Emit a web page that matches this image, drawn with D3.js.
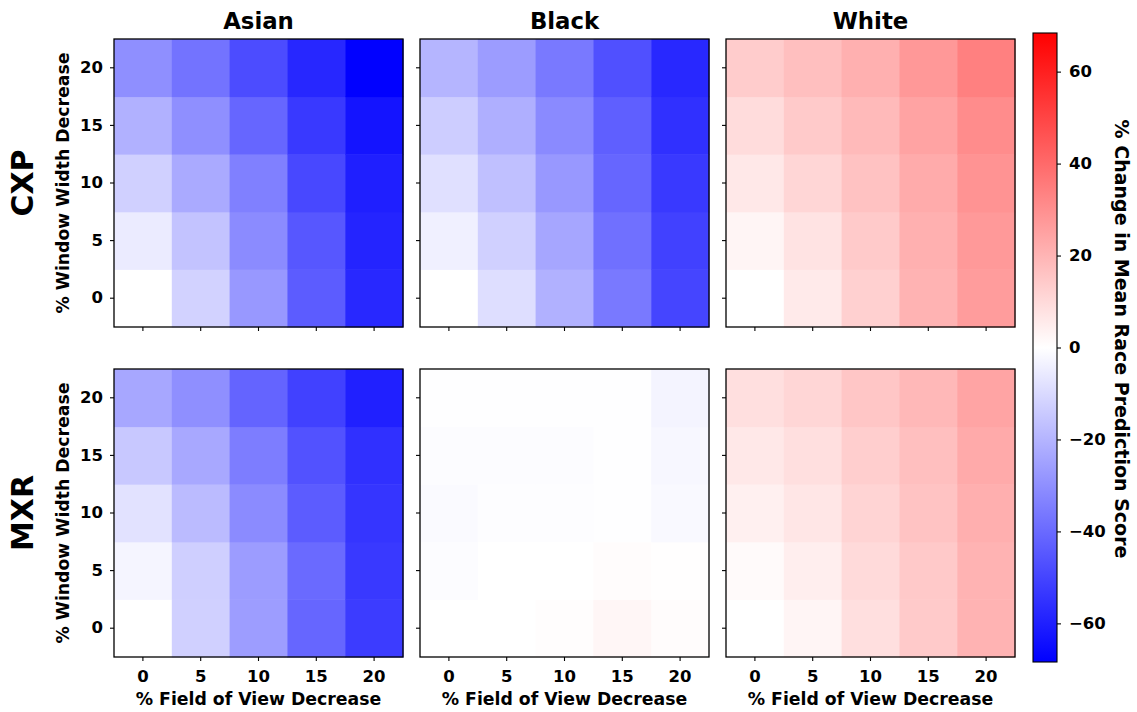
<!DOCTYPE html>
<html><head><meta charset="utf-8">
<script src="https://cdn.jsdelivr.net/npm/d3@7"></script>
<style>
body{margin:0;background:#fff;}
text{font-family:"DejaVu Sans",sans-serif;font-weight:bold;}
</style></head>
<body><svg id="c" width="1137" height="712"></svg>
<script>
// Data
const fovLevels = [0, 5, 10, 15, 20];     // x categories (% Field of View Decrease)
const wwLevels = [0, 5, 10, 15, 20];      // y categories (% Window Width Decrease)
const races = ["Asian", "Black", "White"];
const datasets = ["CXP", "MXR"];
const cbTicks = [-60, -40, -20, 0, 20, 40, 60];
const vLimit = 68.4;

// values[row by window width 0..20][col by fov 0..20]
const cxpAsian = [
  [0.0, -12.0, -27.6, -43.7, -57.7],
  [-5.4, -16.0, -31.0, -45.0, -58.7],
  [-12.6, -22.8, -34.0, -49.0, -60.0],
  [-21.0, -30.0, -41.0, -53.0, -63.0],
  [-30.0, -37.6, -48.0, -58.0, -68.0]
];
const cxpBlack = [
  [0.0, -8.9, -21.0, -36.0, -49.9],
  [-4.0, -12.6, -24.0, -38.4, -51.0],
  [-8.3, -16.9, -27.6, -41.0, -53.0],
  [-13.4, -21.5, -31.4, -43.0, -55.5],
  [-19.9, -26.6, -36.0, -46.9, -57.7]
];
const cxpWhite = [
  [0.0, 5.6, 12.6, 20.4, 26.6],
  [2.7, 7.5, 14.2, 21.2, 27.4],
  [6.2, 11.0, 16.4, 22.5, 29.0],
  [9.4, 14.2, 18.5, 24.7, 30.9],
  [13.7, 17.2, 21.2, 27.6, 34.0]
];
const mxrAsian = [
  [0.0, -12.6, -26.3, -41.0, -52.3],
  [-2.7, -12.9, -26.6, -39.9, -53.1],
  [-7.8, -18.2, -31.0, -43.7, -54.2],
  [-14.8, -23.3, -34.9, -46.4, -55.5],
  [-23.6, -30.0, -41.6, -51.0, -59.8]
];
const mxrBlack = [
  [0.0, 0.0, 0.5, 2.5, 0.8],
  [-0.8, 0.1, 0.1, 0.8, 0.2],
  [-1.3, -0.5, -0.5, -0.2, -1.6],
  [-0.8, -0.8, -0.8, -0.3, -2.1],
  [-0.3, -0.3, -0.3, -0.3, -3.0]
];
const mxrWhite = [
  [0.0, 2.7, 8.6, 14.2, 20.4],
  [1.3, 4.6, 9.9, 14.5, 20.4],
  [4.0, 6.7, 11.5, 16.1, 21.5],
  [6.2, 8.6, 13.1, 17.2, 22.8],
  [8.6, 11.0, 15.3, 19.0, 24.4]
];
const grid = [
  [cxpAsian, cxpBlack, cxpWhite],
  [mxrAsian, mxrBlack, mxrWhite]
];

// Layout
const svg = d3.select("#c");
const colX = [114, 420, 726];
const rowY = [39, 369];
const pw = 289, ph = 288;

const color = d3.scaleLinear().domain([-vLimit, 0, vLimit]).range(["#0000ff", "#ffffff", "#ff0000"]);

const xScale = d3.scaleBand().domain(fovLevels).range([0, pw]);
const yScale = d3.scaleBand().domain(wwLevels).range([ph, 0]);

grid.forEach((row, ri) => {
  row.forEach((mat, ci) => {
    const g = svg.append("g").attr("transform", `translate(${colX[ci]},${rowY[ri]})`);
    const cells = [];
    mat.forEach((r, yi) => r.forEach((v, xi) => cells.push({x: fovLevels[xi], y: wwLevels[yi], v})));
    g.selectAll("rect.cell").data(cells).join("rect")
      .attr("class", "cell")
      .attr("x", d => xScale(d.x)).attr("y", d => yScale(d.y))
      .attr("width", xScale.bandwidth() + 0.5).attr("height", yScale.bandwidth() + 0.5)
      .attr("fill", d => color(d.v));
    g.append("rect").attr("width", pw).attr("height", ph)
      .attr("fill", "none").attr("stroke", "#000").attr("stroke-width", 1.3);

    const yAx = g.append("g").call(d3.axisLeft(yScale).tickSize(4).tickPadding(7).tickFormat(ci === 0 ? d => d : ""));
    const xAx = g.append("g").attr("transform", `translate(0,${ph})`)
      .call(d3.axisBottom(xScale).tickSize(4).tickPadding(9).tickFormat(ri === 1 ? d => d : ""));
    [yAx, xAx].forEach(a => {
      a.select(".domain").remove();
      a.selectAll(".tick line").attr("stroke", "#000").attr("stroke-width", 1.1);
      a.selectAll(".tick text").attr("font-size", 16.5).attr("font-weight", "bold")
        .attr("font-family", "DejaVu Sans").attr("fill", "#000");
    });

    if (ri === 0) {
      g.append("text").attr("x", pw / 2).attr("y", -10).attr("text-anchor", "middle")
        .attr("font-size", 22.8).text(races[ci]);
    }
    if (ri === 1) {
      g.append("text").attr("x", pw / 2).attr("y", ph + 48).attr("text-anchor", "middle")
        .attr("font-size", 17.3).text("% Field of View Decrease");
    }
    if (ci === 0) {
      g.append("text").attr("transform", `translate(-45,${ph / 2}) rotate(-90)`)
        .attr("text-anchor", "middle").attr("font-size", 17.3).text("% Window Width Decrease");
      g.append("text").attr("transform", `translate(-81,${ph / 2}) rotate(-90)`)
        .attr("text-anchor", "middle").attr("font-size", 30).text(datasets[ri]);
    }
  });
});

// Colorbar
const cbX = 1033, cbY = 33, cbW = 24, cbH = 629;
const defs = svg.append("defs");
const grad = defs.append("linearGradient").attr("id", "cbgrad")
  .attr("x1", 0).attr("y1", 1).attr("x2", 0).attr("y2", 0);
[-vLimit, 0, vLimit].forEach(v => {
  grad.append("stop").attr("offset", (v + vLimit) / (2 * vLimit)).attr("stop-color", color(v));
});
svg.append("rect").attr("x", cbX).attr("y", cbY).attr("width", cbW).attr("height", cbH)
  .attr("fill", "url(#cbgrad)").attr("stroke", "#000").attr("stroke-width", 1.1);
const cbScale = d3.scaleLinear().domain([-vLimit, vLimit]).range([cbY + cbH, cbY]);
const cbAx = svg.append("g").attr("transform", `translate(${cbX + cbW},0)`)
  .call(d3.axisRight(cbScale).tickValues(cbTicks).tickSize(4).tickPadding(8)
    .tickFormat(d => d < 0 ? "\u2212" + Math.abs(d) : String(d)));
cbAx.select(".domain").remove();
cbAx.selectAll(".tick line").attr("stroke", "#000").attr("stroke-width", 1.1);
cbAx.selectAll(".tick text").attr("font-size", 16.5).attr("font-weight", "bold")
  .attr("font-family", "DejaVu Sans").attr("fill", "#000");
svg.append("text").attr("transform", `translate(1115,339) rotate(90)`)
  .attr("text-anchor", "middle").attr("font-size", 19)
  .text("% Change in Mean Race Prediction Score");
</script></body></html>
